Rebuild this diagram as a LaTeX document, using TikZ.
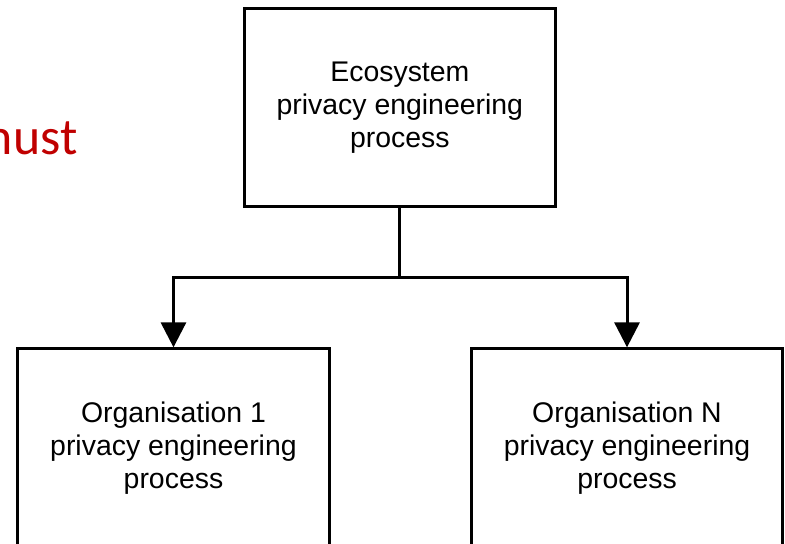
\documentclass[tikz,border=0pt]{standalone}
\usepackage{fontspec}
\setmainfont{Liberation Sans}
\newfontfamily\calibri{Carlito}
\usetikzlibrary{arrows.meta}
\definecolor{darkred}{RGB}{192,0,0}
\tikzset{
	procbox/.style={draw, line width=2.25pt, minimum width=8.23cm, minimum height=5.24cm,
		align=center, font=\fontsize{21.4}{24.7}\selectfont},
	link/.style={line width=2.25pt},
	linkarrow/.style={link, -{Triangle[width=0.66cm,length=0.66cm]}},
}

\begin{document}
\begin{tikzpicture}
		\clip (0,0) rectangle (20.77,14.39);
		% process boxes
		\node[procbox] (eco) at (10.58,11.54) {Ecosystem\\privacy engineering\\process};
		\node[procbox] (org1) at (4.59,2.54) {Organisation 1\\privacy engineering\\process};
		\node[procbox] (orgN) at (16.59,2.54) {Organisation N\\privacy engineering\\process};
		\node[anchor=base east, inner sep=0, text=darkred, font=\calibri\fontsize{39}{47}\selectfont] (must) at (2.06,10.29) {must};
		% tree connectors
		\coordinate (split) at (10.58,7.06);
		\draw[link] (eco.south) -- (split);
		\draw[linkarrow] (split) -| (org1.north);
		\draw[linkarrow] (split) -| (orgN.north);
	\end{tikzpicture}
\end{document}
